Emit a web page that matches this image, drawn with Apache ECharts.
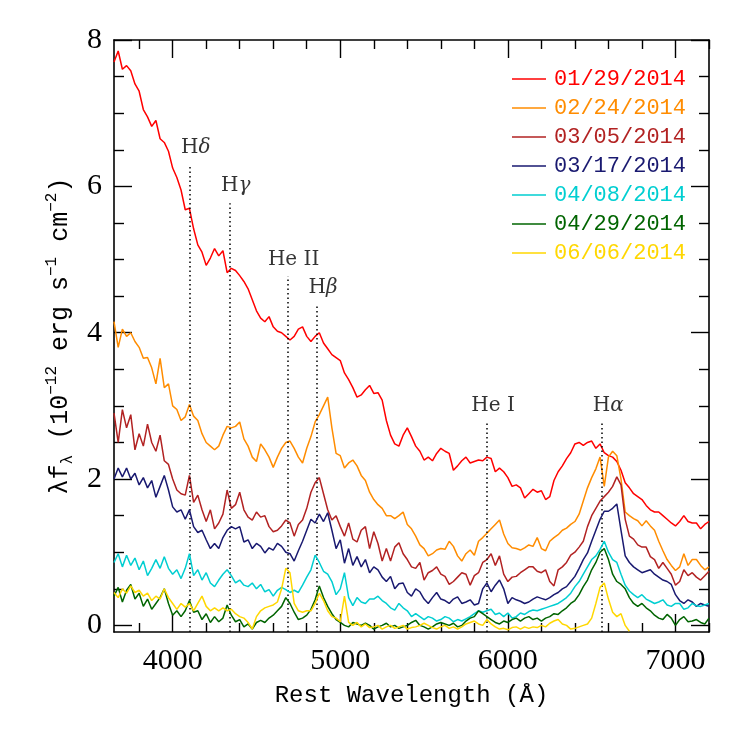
<!DOCTYPE html>
<html>
<head>
<meta charset="UTF-8">
<title>Spectra</title>
<script src="https://cdn.jsdelivr.net/npm/echarts@6/dist/echarts.min.js"></script>
<style>
  html, body { margin: 0; padding: 0; background: #fff; }
  #main { width: 747px; height: 747px; }
</style>
</head>
<body>
<div id="main"></div>
<script>
// wavelength grid, 25 A steps
var wave = [];
for (var w = 3650; w <= 7200; w += 25) wave.push(w);

var dates = ['01/29/2014', '02/24/2014', '03/05/2014', '03/17/2014', '04/08/2014', '04/29/2014', '06/06/2014'];
var colors = ['#ff0000', '#ff8c00', '#b22222', '#191970', '#00ced1', '#006400', '#ffd700'];

var red = [
  7.7,7.85,7.6,7.65,7.58,7.4,7.3,7.05,
  6.95,6.82,6.9,6.65,6.6,6.48,6.25,6.12,
  5.95,5.68,5.7,5.42,5.2,5.1,4.92,5.02,
  5.15,5.05,5.12,4.82,4.88,4.85,4.78,4.7,
  4.6,4.45,4.3,4.2,4.15,4.22,4.08,4.02,
  4.0,3.95,3.9,3.95,4.05,4.08,3.95,3.88,
  3.95,4.0,3.86,3.78,3.7,3.66,3.62,3.45,
  3.36,3.25,3.12,3.15,3.22,3.28,3.17,3.18,
  3.08,2.8,2.6,2.48,2.45,2.6,2.7,2.58,
  2.45,2.38,2.26,2.3,2.25,2.35,2.42,2.38,
  2.35,2.12,2.18,2.25,2.3,2.22,2.24,2.26,
  2.25,2.3,2.28,2.1,2.15,2.1,2.02,1.9,
  1.92,1.88,1.74,1.8,1.86,1.82,1.84,1.72,
  1.76,1.98,2.1,2.18,2.28,2.36,2.48,2.5,
  2.46,2.5,2.52,2.42,2.48,2.36,2.32,2.3,
  2.24,2.12,1.95,1.88,1.8,1.76,1.72,1.64,
  1.58,1.55,1.55,1.5,1.45,1.4,1.36,1.42,
  1.5,1.42,1.4,1.4,1.32,1.38,1.42
];
var orange = [
  4.15,3.8,4.05,3.95,4.0,3.88,3.8,3.65,
  3.66,3.52,3.3,3.65,3.25,3.3,3.0,2.95,
  2.8,2.85,3.02,2.86,2.8,2.62,2.5,2.45,
  2.4,2.45,2.6,2.72,2.7,2.72,2.78,2.55,
  2.45,2.3,2.24,2.48,2.4,2.3,2.16,2.3,
  2.42,2.5,2.52,2.42,2.3,2.22,2.42,2.58,
  2.78,2.88,3.0,3.12,2.7,2.35,2.32,2.15,
  2.22,2.26,2.18,2.05,1.98,1.82,1.72,1.65,
  1.6,1.5,1.5,1.46,1.5,1.55,1.38,1.32,
  1.22,1.1,1.05,0.95,0.98,1.03,1.05,1.04,
  1.15,1.08,0.95,0.88,0.98,1.03,0.96,1.15,
  1.2,1.26,1.32,1.38,1.44,1.25,1.12,1.06,
  1.05,1.03,1.06,1.1,1.08,1.2,1.05,1.02,
  1.15,1.2,1.24,1.3,1.33,1.38,1.42,1.52,
  1.7,1.88,2.02,2.14,2.3,1.9,2.3,2.38,
  2.32,2.0,1.55,1.5,1.46,1.43,1.36,1.43,
  1.36,1.3,1.15,1.02,0.9,0.82,0.75,0.8,
  0.98,0.82,0.9,0.9,0.82,0.76,0.8
];
var brown = [
  2.9,2.5,2.95,2.7,2.88,2.4,2.62,2.45,
  2.75,2.5,2.38,2.6,2.25,2.2,2.0,1.85,
  1.8,1.78,2.05,1.68,1.78,1.58,1.42,1.58,
  1.32,1.4,1.52,1.85,1.6,1.65,1.82,1.58,
  1.48,1.44,1.55,1.48,1.5,1.35,1.28,1.3,
  1.36,1.44,1.4,1.22,1.38,1.44,1.6,1.82,
  1.95,2.02,1.8,1.58,1.44,1.5,1.35,1.22,
  1.4,1.18,1.14,1.3,1.35,1.05,1.28,1.12,
  0.88,1.05,0.88,1.07,1.13,0.98,0.9,0.8,
  0.78,0.86,0.62,0.72,0.75,0.8,0.7,0.67,
  0.56,0.6,0.66,0.72,0.7,0.55,0.68,0.72,
  0.86,0.9,0.98,0.82,0.95,0.7,0.6,0.66,
  0.67,0.72,0.76,0.8,0.8,0.74,0.72,0.76,
  0.6,0.54,0.76,0.8,0.86,0.96,1.0,1.07,
  1.15,1.35,1.5,1.6,1.7,1.76,1.82,1.9,
  2.03,1.92,1.45,1.22,1.18,1.1,1.07,1.07,
  0.94,0.9,0.78,0.86,0.78,0.7,0.55,0.6,
  0.76,0.68,0.72,0.66,0.62,0.68,0.74
];
var navy = [
  2.0,2.15,2.03,2.15,2.0,2.08,1.92,2.02,
  1.88,1.98,1.75,1.9,2.05,1.85,1.62,1.55,
  1.58,1.45,1.58,1.35,1.27,1.3,1.17,1.05,
  1.12,1.05,1.2,1.3,1.35,1.32,1.35,1.14,
  1.17,1.05,1.12,1.08,0.99,1.06,1.03,1.12,
  1.08,1.0,0.98,0.88,1.02,1.15,1.3,1.45,
  1.4,1.52,1.42,1.54,1.3,1.05,1.17,0.85,
  1.05,0.82,0.94,0.8,0.9,0.72,0.8,0.76,
  0.66,0.6,0.67,0.5,0.57,0.58,0.45,0.4,
  0.5,0.46,0.36,0.3,0.38,0.45,0.36,0.34,
  0.3,0.36,0.39,0.3,0.32,0.35,0.28,0.3,
  0.5,0.58,0.46,0.55,0.62,0.5,0.3,0.38,
  0.35,0.33,0.3,0.32,0.36,0.39,0.37,0.35,
  0.38,0.42,0.45,0.5,0.53,0.6,0.67,0.78,
  0.9,0.99,1.15,1.3,1.45,1.56,1.56,1.6,
  1.66,1.3,0.95,0.86,0.8,0.76,0.72,0.74,
  0.76,0.7,0.66,0.62,0.6,0.56,0.42,0.34,
  0.3,0.35,0.32,0.26,0.3,0.28,0.26
];
var cyan = [
  0.86,0.98,0.8,0.96,0.82,0.92,0.76,0.88,
  0.68,0.78,0.9,0.78,0.94,0.78,0.7,0.76,
  0.64,0.78,0.98,0.68,0.76,0.62,0.72,0.58,
  0.53,0.62,0.7,0.76,0.68,0.58,0.62,0.55,
  0.53,0.58,0.5,0.56,0.46,0.49,0.4,0.48,
  0.52,0.49,0.45,0.48,0.45,0.55,0.66,0.76,
  0.96,0.86,0.74,0.7,0.6,0.42,0.5,0.72,
  0.38,0.27,0.38,0.32,0.3,0.36,0.36,0.4,
  0.34,0.3,0.24,0.21,0.3,0.24,0.2,0.12,
  0.16,0.12,0.08,0.12,0.1,0.06,0.08,0.12,
  0.1,0.05,0.08,0.06,0.09,0.12,0.16,0.2,
  0.18,0.2,0.22,0.15,0.17,0.12,0.17,0.1,
  0.12,0.17,0.15,0.19,0.21,0.2,0.22,0.24,
  0.26,0.28,0.3,0.34,0.38,0.44,0.53,0.6,
  0.7,0.8,0.9,0.95,1.04,1.15,1.0,0.9,
  0.86,0.7,0.55,0.47,0.42,0.38,0.42,0.36,
  0.33,0.3,0.32,0.35,0.28,0.26,0.3,0.3,
  0.22,0.24,0.3,0.27,0.26,0.28,0.3
];
var green = [
  0.4,0.52,0.32,0.48,0.56,0.36,0.44,0.26,
  0.36,0.22,0.3,0.38,0.5,0.3,0.14,0.2,
  0.12,0.2,0.34,0.18,0.2,0.08,0.16,0.04,
  0.12,0.05,0.1,0.28,0.14,0.05,0.08,-0.02,
  0.02,-0.05,0.04,0.07,0.04,0.1,0.14,0.2,
  0.26,0.38,0.3,0.18,0.08,0.1,0.14,0.22,
  0.35,0.54,0.38,0.26,0.16,0.08,0.04,0.0,
  -0.02,0.04,0.02,0.0,0.03,0.0,-0.05,-0.02,
  0.0,0.03,-0.02,0.0,-0.04,-0.02,0.0,0.04,
  0.07,0.0,-0.02,-0.05,-0.02,0.02,0.04,0.02,
  0.0,0.03,-0.02,0.0,0.06,0.1,0.12,0.2,
  0.16,0.12,0.08,0.04,0.02,0.06,0.04,0.08,
  0.1,0.06,0.1,0.12,0.08,0.1,0.06,0.1,
  0.12,0.16,0.15,0.2,0.24,0.3,0.34,0.42,
  0.53,0.62,0.76,0.86,1.0,1.05,0.9,0.7,
  0.6,0.56,0.5,0.38,0.3,0.26,0.3,0.24,
  0.2,0.14,0.1,0.08,0.15,0.1,0.0,0.08,
  0.12,0.05,0.06,0.08,0.04,0.02,0.1
];
var yellow = [
  0.45,0.38,0.5,0.44,0.54,0.45,0.48,0.4,
  0.44,0.34,0.4,0.36,0.5,0.38,0.3,0.22,
  0.3,0.25,0.3,0.2,0.3,0.4,0.26,0.2,
  0.24,0.2,0.24,0.2,0.22,0.16,0.12,0.1,
  0.04,-0.05,0.12,0.2,0.24,0.26,0.28,0.32,
  0.5,0.78,0.72,0.3,0.2,0.18,0.2,0.2,
  0.3,0.44,0.34,0.2,0.12,0.1,0.05,0.4,
  0.04,0.0,0.04,-0.02,0.02,-0.03,-0.02,0.0,
  -0.05,-0.02,0.0,-0.04,-0.02,0.0,-0.05,-0.03,
  -0.02,0.0,0.03,0.0,-0.03,-0.05,-0.02,0.0,
  -0.04,-0.02,-0.05,-0.02,0.02,0.04,0.06,0.02,
  0.0,0.08,0.02,-0.02,-0.05,-0.04,-0.06,-0.03,
  -0.02,-0.05,-0.02,-0.04,-0.02,-0.03,0.0,-0.02,
  0.03,0.06,0.08,0.02,0.0,-0.05,-0.04,-0.02,
  0.0,0.02,0.1,0.3,0.52,0.58,0.36,0.18,
  0.12,0.16,0.0,-0.08
];
var spectra = [red, orange, brown, navy, cyan, green, yellow];

// line identifications
var lineNames = ['{r|H}{g|δ}', '{r|H}{g|γ}', '{r|He II}', '{r|H}{g|β}', '{r|He I}', '{r|H}{g|α}'];
var lineWaves = [4102, 4340, 4686, 4861, 5876, 6563];
var lineTops = [6.29, 5.77, 4.77, 4.38, 2.77, 2.77];

var xMajor = [4000, 5000, 6000, 7000];
var xMinor = [3800, 4200, 4400, 4600, 4800, 5200, 5400, 5600, 5800, 6200, 6400, 6600, 6800, 7200];
var yMajor = [0, 2, 4, 6, 8];
var yMinor = [0.5, 1, 1.5, 2.5, 3, 3.5, 4.5, 5, 5.5, 6.5, 7, 7.5];

var XMIN = 3650, XMAX = 7200, YMIN = -0.09, YMAX = 8;

function pairs(vals) {
    return vals.map(function (v, i) { return [wave[i], v]; });
}
function plain(v) { return String(v); }

function xAxisOf(pos, ticks, len, withLabel, showLine) {
    return {
        type: 'value', min: XMIN, max: XMAX, position: pos,
        axisLine: { show: showLine, onZero: false, lineStyle: { color: '#000', width: 1.6 } },
        axisTick: { show: true, inside: true, length: len, customValues: ticks, lineStyle: { color: '#000', width: 1.4 } },
        axisLabel: withLabel ? { show: true, customValues: ticks, formatter: plain, margin: 14, color: '#000', fontFamily: 'Liberation Serif', fontSize: 30 } : { show: false },
        splitLine: { show: false }
    };
}
function yAxisOf(pos, ticks, len, withLabel, showLine) {
    return {
        type: 'value', min: YMIN, max: YMAX, position: pos,
        axisLine: { show: showLine, onZero: false, lineStyle: { color: '#000', width: 1.6 } },
        axisTick: { show: true, inside: true, length: len, customValues: ticks, lineStyle: { color: '#000', width: 1.4 } },
        axisLabel: withLabel ? { show: true, customValues: ticks, formatter: plain, margin: 12, color: '#000', fontFamily: 'Liberation Serif', fontSize: 30 } : { show: false },
        splitLine: { show: false }
    };
}

var xAxes = [
    xAxisOf('bottom', xMajor, 18, true, true),
    xAxisOf('bottom', xMinor, 9, false, false),
    xAxisOf('top', xMajor, 18, false, true),
    xAxisOf('top', xMinor, 9, false, false)
];
xAxes[0].name = 'Rest Wavelength (Å)';
xAxes[0].nameLocation = 'middle';
xAxes[0].nameGap = 52;
xAxes[0].nameTextStyle = { fontFamily: 'Liberation Mono', fontSize: 24, color: '#000' };

var yAxes = [
    yAxisOf('left', yMajor, 18, true, true),
    yAxisOf('left', yMinor, 10, false, false),
    yAxisOf('right', yMajor, 18, false, true),
    yAxisOf('right', yMinor, 10, false, false)
];
yAxes[0].name = '{a|λf}{s|λ}{a| (10}{p|−12}{a| erg s}{p|−1}{a| cm}{p|−2}{a|)}';
yAxes[0].nameLocation = 'middle';
yAxes[0].nameRotate = 90;
yAxes[0].nameGap = 36;
yAxes[0].nameTextStyle = {
    color: '#000', fontFamily: 'Liberation Mono', fontSize: 25,
    rich: {
        a: { fontFamily: 'Liberation Mono', fontSize: 25, lineHeight: 32, color: '#000' },
        s: { fontFamily: 'Liberation Mono', fontSize: 16, lineHeight: 14, verticalAlign: 'bottom', color: '#000' },
        p: { fontFamily: 'Liberation Mono', fontSize: 16, lineHeight: 16, verticalAlign: 'top', color: '#000' }
    }
};

var series = spectra.map(function (vals, k) {
    return {
        name: dates[k], type: 'line', data: pairs(vals),
        showSymbol: false, symbol: 'none', smooth: false,
        lineStyle: { color: colors[k], width: 1.5 },
        itemStyle: { color: colors[k] },
        z: 2 + k, silent: true
    };
});

// identifications: dotted lines + labels
series.push({
    type: 'scatter', silent: true, symbolSize: 0, z: 20,
    data: lineWaves.map(function (w, i) { return { value: [w, lineTops[i]], name: lineNames[i] }; }),
    label: {
        show: true, position: 'top', distance: 7, offset: [6, 0],
        formatter: function (p) { return p.name; },
        rich: {
            r: { fontFamily: 'DejaVu Serif', fontSize: 20, color: '#000' },
            g: { fontFamily: 'DejaVu Serif', fontStyle: 'italic', fontSize: 20, color: '#000' }
        }
    },
    markLine: {
        silent: true, symbol: ['none', 'none'], animation: false,
        label: { show: false },
        lineStyle: { color: '#000', width: 1.5, type: [1.5, 3] },
        data: lineWaves.map(function (w, i) { return [{ coord: [w, YMIN] }, { coord: [w, lineTops[i]] }]; })
    }
});

var chart = echarts.init(document.getElementById('main'));
chart.setOption({
    animation: false,
    backgroundColor: '#fff',
    grid: { left: 114, right: 38, top: 40, bottom: 115, containLabel: false },
    legend: {
        orient: 'vertical', left: 507, top: 63,
        icon: 'rect', itemWidth: 34, itemHeight: 1.6, itemGap: 7,
        textStyle: { fontFamily: 'Liberation Mono', fontSize: 22, lineHeight: 20, padding: [0, 0, 0, 3] },
        data: dates.map(function (d, k) { return { name: d, textStyle: { color: colors[k] } }; }),
        selectedMode: false
    },
    xAxis: xAxes,
    yAxis: yAxes,
    series: series
});
</script>
</body>
</html>
